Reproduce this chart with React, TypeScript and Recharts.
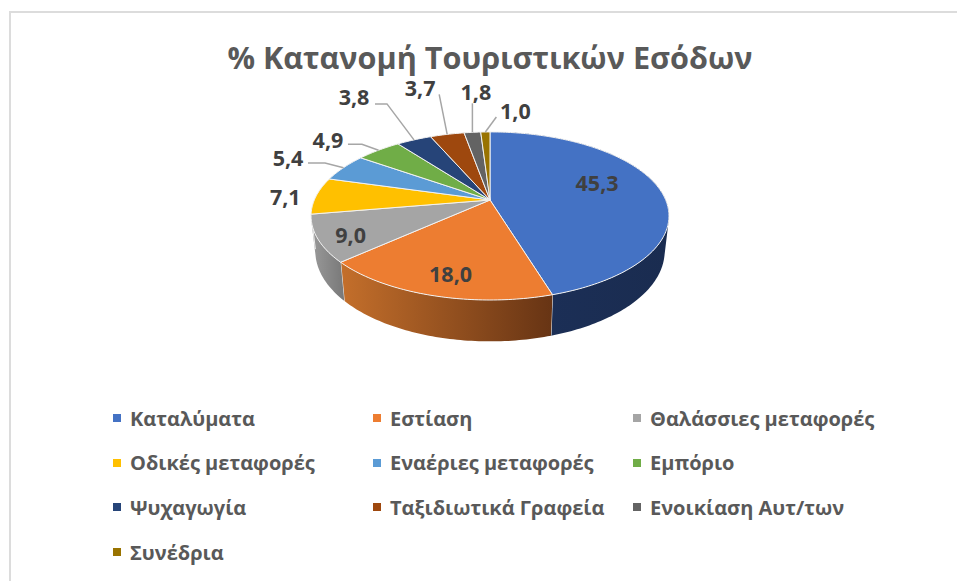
import { PieChart, Pie, Legend } from "recharts";

const CATEGORIES = [
  "Καταλύματα",
  "Εστίαση",
  "Θαλάσσιες μεταφορές",
  "Οδικές μεταφορές",
  "Εναέριες μεταφορές",
  "Εμπόριο",
  "Ψυχαγωγία",
  "Ταξιδιωτικά Γραφεία",
  "Ενοικίαση Αυτ/των",
  "Συνέδρια",
];
const VALUES = [45.3, 18.0, 9.0, 7.1, 5.4, 4.9, 3.8, 3.7, 1.8, 1.0];
const COLORS = ["#4472C4", "#ED7D31", "#A5A5A5", "#FFC000", "#5B9BD5", "#70AD47", "#264478", "#9E480E", "#636363", "#997300"];

const tableData = CATEGORIES.map((name, i) => ({ name, value: VALUES[i], fill: COLORS[i] }));

// wall gradients for the slices that face the viewer
const WALL_STOPS: Record<number, [string, string]> = {
  0: ["#1c3059", "#1a2c50"],
  1: ["#c46f2b", "#673414"],
  2: ["#9a9a9a", "#787878"],
};

// label placement relative to the slice's rim point
const LABEL_NUDGE = [
  { dx: -62, dy: -6 },
  { dx: 18, dy: -22 },
  { dx: 33, dy: -4 },
  { dx: -31, dy: 1 },
  { dx: -55.5, dy: -10.7, line: [[0, 0], [-18.5, -4.7], [-35.5, -4.7]] },
  { dx: -50.6, dy: -11, line: [[0, 0], [-16.6, -6], [-30.6, -6]] },
  { dx: -60, dy: -43, line: [[0, 0], [-27, -36], [-39, -36]] },
  { dx: -27, dy: -47, line: [[0, 0], [-8, -40]] },
  { dx: 3.5, dy: -41, line: [[0, 0], [0, -29]] },
  { dx: 30, dy: -21, line: [[0, 0], [11, -15]] },
];

const FONT = "'Open Sans', sans-serif";
const CX = 490;
const CY = 200;
const RADIUS = 175.7;
const K = 0.19; // perspective of the tilted disc
const TILT = 0.461;
const DEPTH_OFFSET = 34;
const BOTTOM_TILT = 0.495;
const BOTTOM_SCALE = 0.976;

// project a pie angle (recharts degrees) on to the tilted top or bottom plane
function project(cx: number, cy: number, r: number, angle: number, bottom = false) {
  const t = ((90 - angle) * Math.PI) / 180;
  const s = Math.sin(t);
  const c = Math.cos(t);
  const w = 1 + K * c;
  const b = bottom ? BOTTOM_SCALE : 1;
  const tilt = bottom ? BOTTOM_TILT : TILT;
  return {
    x: cx + (r * b * s) / w,
    y: cy + (bottom ? DEPTH_OFFSET : 0) - (r * tilt * c) / w,
  };
}

function rim(cx: number, cy: number, r: number, a0: number, a1: number, bottom = false) {
  const steps = Math.max(2, Math.ceil(Math.abs(a1 - a0)));
  const pts = [];
  for (let i = 0; i <= steps; i++) {
    pts.push(project(cx, cy, r, a0 + ((a1 - a0) * i) / steps, bottom));
  }
  return pts;
}

const toPath = (pts: { x: number; y: number }[]) =>
  pts.map((p, i) => `${i ? "L" : "M"}${p.x.toFixed(2)} ${p.y.toFixed(2)}`).join(" ");

function TopSlice(props: any) {
  const { cx, cy, outerRadius, startAngle, endAngle, fill } = props;
  const d = `M${cx} ${cy} ${toPath(rim(cx, cy, outerRadius, startAngle, endAngle)).replace("M", "L")} Z`;
  return <path d={d} fill={fill} stroke="#f2f2f2" strokeWidth={1} strokeLinejoin="round" />;
}

function WallSlice(props: any) {
  const { cx, cy, outerRadius, startAngle, endAngle, index } = props;
  const stops = WALL_STOPS[index];
  if (!stops) return <g />;
  const top = rim(cx, cy, outerRadius, startAngle, endAngle);
  const bottom = rim(cx, cy, outerRadius, startAngle, endAngle, true);
  // union of small quads so the silhouette follows the extrusion
  const quads = top
    .slice(1)
    .map((p, i) => {
      const q = top[i];
      const u = bottom[i];
      const v = bottom[i + 1];
      const cross = (p.x - q.x) * (v.y - q.y) - (p.y - q.y) * (v.x - q.x);
      return cross >= 0 ? toPath([q, p, v, u]) + " Z" : toPath([u, v, p, q]) + " Z";
    })
    .join(" ");
  const id = `wall-${index}`;
  const last = top.length - 1;
  return (
    <g>
      <defs>
        <linearGradient id={id} x1="0" y1="0" x2="1" y2="0">
          <stop offset="0%" stopColor={stops[0]} />
          <stop offset="100%" stopColor={stops[1]} />
        </linearGradient>
      </defs>
      <path d={quads} fill={`url(#${id})`} fillRule="nonzero" />
      <path d={toPath([top[last], bottom[last]])} stroke="#eeeeee" strokeWidth={1} fill="none" />
    </g>
  );
}

function SliceLabel(props: any) {
  const { cx, cy, outerRadius, midAngle, index, value } = props;
  const nudge = LABEL_NUDGE[index];
  const p = project(cx, cy, outerRadius, midAngle);
  return (
    <g>
      {nudge.line && (
        <polyline
          points={nudge.line.map(([dx, dy]) => `${p.x + dx},${p.y + dy}`).join(" ")}
          fill="none"
          stroke="#a6a6a6"
          strokeWidth={1.5}
        />
      )}
      <text
        x={p.x + nudge.dx}
        y={p.y + nudge.dy}
        textAnchor="middle"
        dominantBaseline="central"
        fontFamily={FONT}
        fontSize={21.5}
        fontWeight={700}
        fill="#404040"
      >
        {value.toFixed(1).replace(".", ",")}
      </text>
    </g>
  );
}

function LegendGrid({ payload }: any) {
  // both pie layers report entries, keep one per category in data order
  const items = CATEGORIES.map((name) => (payload || []).find((e: any) => e.value === name)).filter(Boolean);
  return (
    <div style={{ display: "grid", gridTemplateColumns: "260px 260px 260px", gridAutoRows: "44.6px", fontFamily: FONT }}>
      {items.map((entry: any) => (
        <div key={entry.value} style={{ display: "flex", alignItems: "center", color: "#595959", fontSize: 20, fontWeight: 700, whiteSpace: "nowrap" }}>
          <span style={{ width: 8, height: 8, background: entry.color, marginRight: 9, flex: "none" }} />
          {entry.value}
        </div>
      ))}
    </div>
  );
}

export default function App() {
  return (
    <div style={{ position: "absolute", left: 0, top: 0, width: 957, height: 581, background: "#fff", overflow: "hidden" }}>
      <div style={{ position: "absolute", left: 9, top: 11, width: 948, height: 570, borderLeft: "2px solid #dcdcdc", borderTop: "2px solid #dcdcdc", boxSizing: "border-box" }} />
      <div style={{ position: "absolute", left: 0, width: 980, top: 40, lineHeight: "34px", textAlign: "center", fontFamily: FONT, fontWeight: 700, fontSize: 30.6, color: "#595959", whiteSpace: "nowrap" }}>
        % Κατανομή Τουριστικών Εσόδων
      </div>
      <div style={{ position: "absolute", left: 0, top: 0 }}>
        <PieChart width={957} height={581} margin={{ top: 0, right: 0, bottom: 0, left: 0 }}>
          <Pie
            data={tableData}
            dataKey="value"
            nameKey="name"
            cx={CX}
            cy={CY}
            outerRadius={RADIUS}
            startAngle={90}
            endAngle={-270}
            shape={WallSlice}
            legendType="none"
            label={false}
            labelLine={false}
            isAnimationActive={false}
          />
          <Pie
            data={tableData}
            dataKey="value"
            nameKey="name"
            cx={CX}
            cy={CY}
            outerRadius={RADIUS}
            startAngle={90}
            endAngle={-270}
            shape={TopSlice}
            label={SliceLabel}
            labelLine={false}
            isAnimationActive={false}
          />
          <Legend
            content={LegendGrid}
            wrapperStyle={{ position: "absolute", left: 113, top: 396, width: 800, bottom: "auto" }}
          />
        </PieChart>
      </div>
    </div>
  );
}
